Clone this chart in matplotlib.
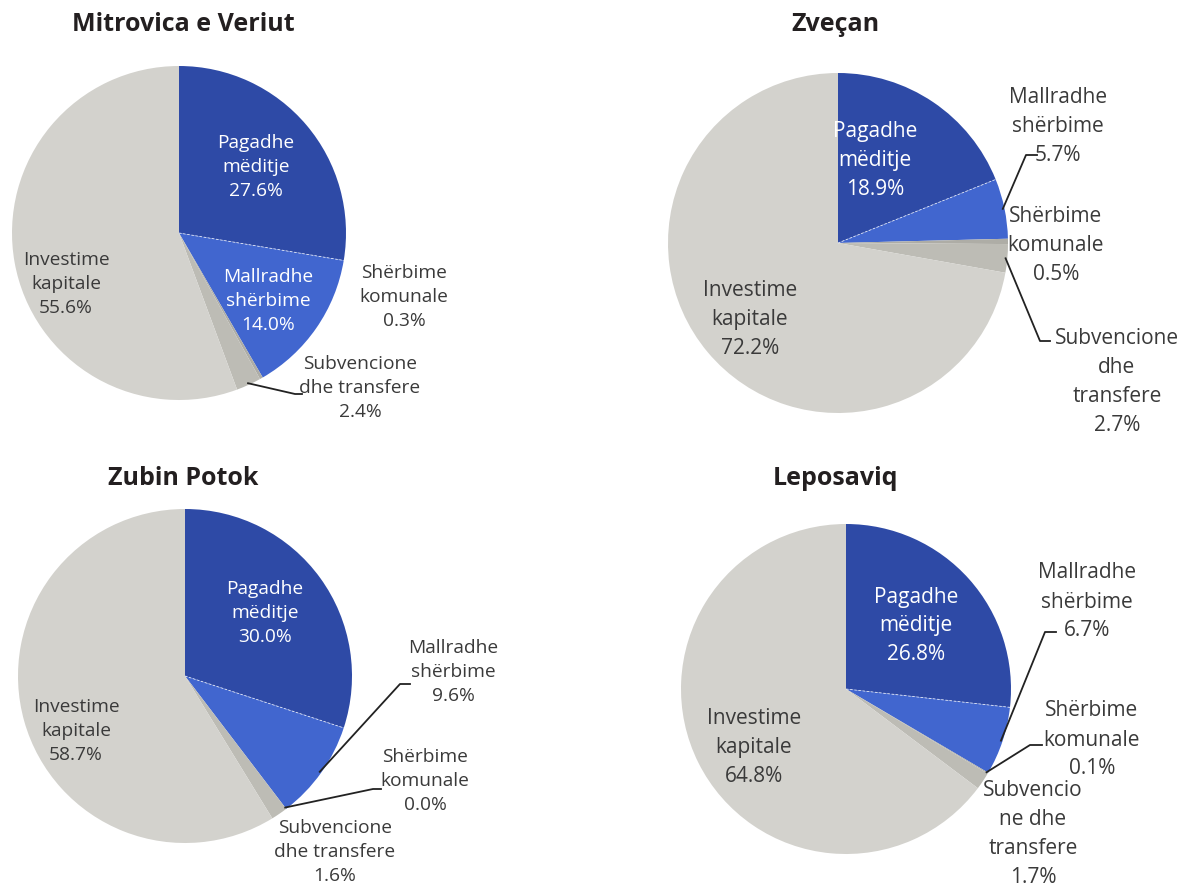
import numpy as np
import matplotlib.pyplot as plt

# data
municipalities = ["Mitrovica e Veriut", "Zveçan", "Zubin Potok", "Leposaviq"]
categories = ["Paga dhe mëditje", "Mallra dhe shërbime", "Shërbime komunale",
              "Subvencione dhe transfere", "Investime kapitale"]
mitrovica = [27.6, 14.0, 0.3, 2.4, 55.6]
zvecan = [18.9, 5.7, 0.5, 2.7, 72.2]
zubin_potok = [30.0, 9.6, 0.0, 1.6, 58.7]
leposaviq = [26.8, 6.7, 0.1, 1.7, 64.8]
all_values = [mitrovica, zvecan, zubin_potok, leposaviq]

# label texts as wrapped in the original
label_text = [
    ["Pagadhe\nmëditje", "Mallradhe\nshërbime", "Shërbime\nkomunale",
     "Subvencione\ndhe transfere", "Investime\nkapitale"],
    ["Pagadhe\nmëditje", "Mallradhe\nshërbime", "Shërbime\nkomunale",
     "Subvencione\ndhe\ntransfere", "Investime\nkapitale"],
    ["Pagadhe\nmëditje", "Mallradhe\nshërbime", "Shërbime\nkomunale",
     "Subvencione\ndhe transfere", "Investime\nkapitale"],
    ["Pagadhe\nmëditje", "Mallradhe\nshërbime", "Shërbime\nkomunale",
     "Subvencio\nne dhe\ntransfere", "Investime\nkapitale"],
]

colors = ["#2e4aa6", "#4166cf", "#aeada6", "#bdbcb5", "#d3d2cd"]
DARK = "#3a3a3a"

W, H = 1195, 886

# layout (pixel coords, y from top)
layout = [
    dict(center=(179, 233), r=167, title=(183, 24), fs=13.8, ls=1.45,
         pos=[(256, 167), (268, 301), (404, 297), (360, 388), (66, 284)],
         tcol=["white", "white", DARK, DARK, DARK],
         leaders={3: [(295, 394), (302, 394)]}),
    dict(center=(838, 243), r=170, title=(835, 24), fs=15, ls=1.5,
         pos=[(875, 160), (1058, 126), (1056, 245), (1117, 382), (750, 319)],
         tcol=["white", DARK, DARK, DARK, DARK],
         leaders={1: [(1026, 155), (1037, 155)], 3: [(1040, 341), (1050, 341)]}),
    dict(center=(185, 676), r=167, title=(183, 478), fs=13.8, ls=1.45,
         pos=[(265, 613), (453, 672), (425, 781), (335, 852), (76, 731)],
         tcol=["white", DARK, DARK, DARK, DARK],
         leaders={1: [(400, 684), (410, 684)], 2: [(373, 789), (381, 789)]}),
    dict(center=(846, 689), r=165, title=(836, 478), fs=15, ls=1.5,
         pos=[(916, 626), (1087, 602), (1092, 740), (1033, 834), (754, 748)],
         tcol=["white", DARK, DARK, DARK, DARK],
         leaders={1: [(1045, 632), (1056, 632)], 2: [(1030, 745), (1042, 745)]}),
]

plt.rcParams['font.family'] = ['Open Sans', 'DejaVu Sans']

fig = plt.figure(figsize=(W / 100, H / 100), dpi=100)
ax = fig.add_axes([0, 0, 1, 1])
ax.set_xlim(0, W)
ax.set_ylim(0, H)
ax.set_aspect('equal')
ax.axis('off')

for name, vals, texts, lay in zip(municipalities, all_values, label_text, layout):
    cx, cy = lay["center"]
    r = lay["r"]
    wedges, _ = ax.pie(vals, colors=colors, startangle=90, counterclock=False,
                       center=(cx, H - cy), radius=r,
                       wedgeprops=dict(linewidth=0))
    # faint white seam between the two blue slices
    ang = np.deg2rad(wedges[0].theta1)
    ax.plot([cx, cx + r * np.cos(ang)], [H - cy, H - cy + r * np.sin(ang)],
            color="white", linewidth=0.6, linestyle=(0, (3, 2)), alpha=0.8)
    ax.text(lay["title"][0], H - lay["title"][1], name, ha="center", va="center",
            fontsize=18, fontweight="bold", color="#231f20")
    for i, (v, t) in enumerate(zip(vals, texts)):
        x, y = lay["pos"][i]
        ax.text(x, H - y, f"{t}\n{v:.1f}%", ha="center", va="center",
                fontsize=lay["fs"], color=lay["tcol"][i], linespacing=lay["ls"])
    for i, pts in lay["leaders"].items():
        w = wedges[i]
        ang = np.deg2rad((w.theta1 + w.theta2) / 2)
        sx = cx + r * 0.99 * np.cos(ang)
        sy = (H - cy) + r * 0.99 * np.sin(ang)
        xs = [sx] + [p[0] for p in pts]
        ys = [sy] + [H - p[1] for p in pts]
        ax.plot(xs, ys, color="#222222", linewidth=1.3)

ax.set_xlim(0, W)
ax.set_ylim(0, H)
fig.savefig("out.png", dpi=100)
plt.close('all')
